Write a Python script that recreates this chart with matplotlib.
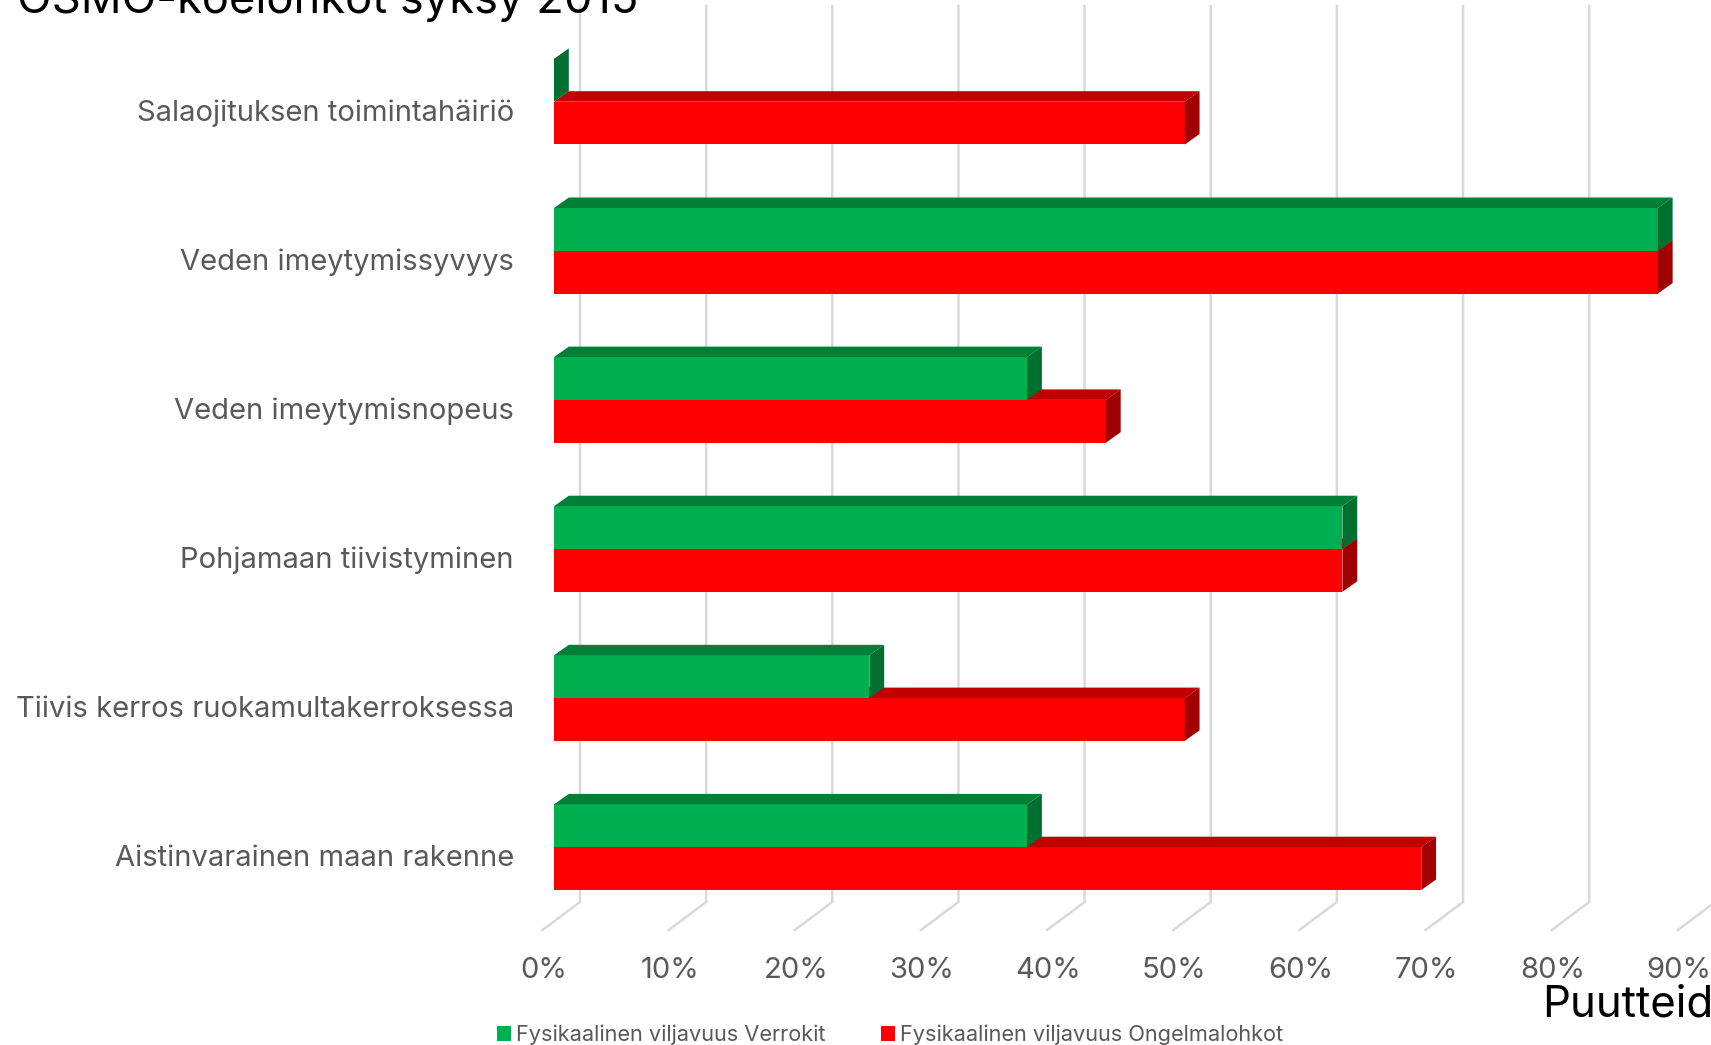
import matplotlib
matplotlib.use("Agg")
import matplotlib.pyplot as plt
from matplotlib.patches import Polygon, Patch

categories = ["Salaojituksen toimintahäiriö", "Veden imeytymissyvyys", "Veden imeytymisnopeus",
              "Pohjamaan tiivistyminen", "Tiivis kerros ruokamultakerroksessa", "Aistinvarainen maan rakenne"]
verrokit = [0, 87.5, 37.5, 62.5, 25, 37.5]
ongelmalohkot = [50, 87.5, 43.75, 62.5, 50, 68.75]
xticks = [0, 10, 20, 30, 40, 50, 60, 70, 80, 90]
series_names = ["Fysikaalinen viljavuus Verrokit", "Fysikaalinen viljavuus Ongelmalohkot"]

W, H = 1711, 1045
plt.rcParams['font.family'] = ['Inter', 'DejaVu Sans']
fig = plt.figure(figsize=(W / 100, H / 100), dpi=100)
ax = fig.add_axes([0, 0, 1, 1])
PX = 126.15 / 10   # pixels per percent
PY = 149.1         # pixels per category
Y0 = 101.7
ax.set_xlim(-554 / PX, (W - 554) / PX)
ax.set_ylim((H - Y0) / PY, -Y0 / PY)
ax.axis('off')
fx = lambda p: p / PX
fy = lambda p: p / PY

# gridlines with floor
GRID = "#D9D9D9"
for t in xticks:
    bx = t + fx(26)
    ax.plot([bx, bx, bx - fx(37.5)], [fy(6 - Y0), fy(902 - Y0), fy(930 - Y0)],
            color=GRID, lw=1.8, zorder=1, solid_joinstyle='miter')
    ax.text(t - fx(10.5), fy(971 - Y0), f"{t}%", ha='center', va='center',
            fontsize=21, color="#595959", zorder=5)

h = fy(42.8)
dx, dy = fx(14.8), fy(10.5)
def bar3d(i, y, v, front, top, side, z):
    yy = i + y
    ax.barh(yy, v, height=h, align='edge', color=front, lw=0, zorder=z)
    if v > 0:
        ax.add_patch(Polygon([(0, yy), (dx, yy - dy), (v + dx, yy - dy), (v, yy)], color=top, lw=0, zorder=z))
    ax.add_patch(Polygon([(v, yy), (v + dx, yy - dy), (v + dx, yy - dy + h), (v, yy + h)], color=side, lw=0, zorder=z))

for i, (g, r) in enumerate(zip(verrokit, ongelmalohkot)):
    bar3d(i, 0, r, "#FF0000", "#C00000", "#A00000", 3)
    bar3d(i, -h, g, "#00B050", "#008037", "#006F30", 3.5)
    ax.text(fx(514 - 554), i + fy(11.7), categories[i], ha='right', va='center',
            fontsize=21, color="#595959", zorder=5)

ax.text(fx(17 - 554), fy(13 - Y0), "OSMO-koelohkot syksy 2015", ha='left', va='baseline',
        fontsize=32.6, color="black", zorder=6)
ax.text(fx(1542 - 554), fy(1017 - Y0), "Puutteid", ha='left', va='baseline',
        fontsize=31.5, color="black", zorder=6)

handles = [Patch(color="#00B050", lw=0), Patch(color="#FF0000", lw=0)]
ax.legend(handles, series_names, ncol=2, frameon=False, fontsize=15.65, labelcolor="#595959",
          loc='center left', bbox_to_anchor=(497 / W, 1 - 1035 / H), bbox_transform=fig.transFigure,
          borderpad=0, borderaxespad=0, handlelength=0.64, handleheight=0.64,
          handletextpad=0.24, columnspacing=2.55)

fig.savefig("out.png", dpi=100)
